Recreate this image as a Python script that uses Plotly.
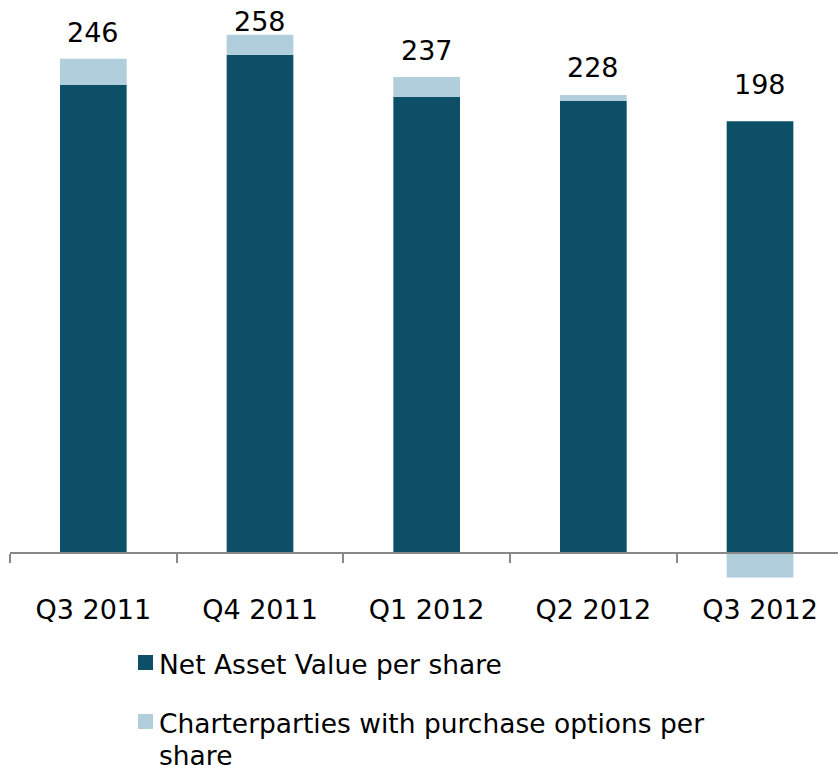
import plotly.graph_objects as go

# Per-share figures by quarter
quarters = ["Q3 2011", "Q4 2011", "Q1 2012", "Q2 2012", "Q3 2012"]
nav_per_share = [233, 248, 227, 225, 215]
charter_per_share = [13, 10, 10, 3, -12]
total_labels = [246, 258, 237, 228, 198]

series_names = ["Net Asset Value per share",
                "Charterparties with purchase options per share"]

# Styling
DARK = "#0c4f66"
LIGHT = "#b1cedc"
AXIS_GREY = "#898989"
FONT = "DejaVu Sans, Verdana, sans-serif"
W, H = 838, 765
ML, MR, MT, MB = 10, 0, 0, 185
PLOT_W, PLOT_H = W - ML - MR, H - MT - MB
PX_PER_UNIT = 2.01
ZERO_PX = 553.3          # pixel row of the value axis zero line
label_lift_px = [26, 13, 26, 28, 37]   # vertical gap of each total label above its stack
LEGEND_LINE_PX = 31.5


def px_to_paper_x(px):
    return (px - ML) / PLOT_W


def px_to_paper_y(py):
    return (MT + PLOT_H - py) / PLOT_H


fig = go.Figure()
fig.add_trace(go.Bar(x=quarters, y=nav_per_share, name=series_names[0],
                     marker=dict(color=DARK, line=dict(width=0)), width=0.4,
                     showlegend=False))
fig.add_trace(go.Bar(x=quarters, y=charter_per_share, name=series_names[1],
                     marker=dict(color=LIGHT, line=dict(width=0)), width=0.4,
                     showlegend=False))

# Total labels above each stack
for q, nav, ch, tot, lift in zip(quarters, nav_per_share, charter_per_share,
                                 total_labels, label_lift_px):
    top = nav + max(ch, 0)
    fig.add_annotation(x=q, y=top, text=str(tot), showarrow=False,
                       xref="x", yref="y", yanchor="middle", yshift=lift,
                       font=dict(family=FONT, size=27, color="#000000"))

# Legend drawn as swatches and text beneath the chart
legend_rows = [
    (655, ["Net Asset Value per share"], DARK),
    (714, ["Charterparties with purchase options per", "share"], LIGHT),
]
for top_px, lines, color in legend_rows:
    fig.add_shape(type="rect", xref="paper", yref="paper",
                  x0=px_to_paper_x(138), x1=px_to_paper_x(153),
                  y0=px_to_paper_y(top_px + 15), y1=px_to_paper_y(top_px),
                  fillcolor=color, line=dict(width=0))
    for i, line in enumerate(lines):
        fig.add_annotation(x=px_to_paper_x(157),
                           y=px_to_paper_y(top_px - 8 + i * LEGEND_LINE_PX),
                           xref="paper", yref="paper", xanchor="left",
                           yanchor="top", align="left", showarrow=False,
                           text=line,
                           font=dict(family=FONT, size=26.5, color="#000000"))

y_top = ZERO_PX / PX_PER_UNIT
y_bottom = -(MT + PLOT_H - ZERO_PX) / PX_PER_UNIT
axis_pos = (MT + PLOT_H - ZERO_PX) / PLOT_H

fig.update_layout(
    width=W, height=H,
    margin=dict(l=ML, r=MR, t=MT, b=MB),
    barmode="relative",
    paper_bgcolor="white", plot_bgcolor="white",
    font=dict(family=FONT, color="#000000"),
    xaxis=dict(
        type="category",
        range=[-0.5, -0.5 + PLOT_W / 166.67],
        anchor="free", position=axis_pos,
        showline=True, linecolor=AXIS_GREY, linewidth=1.5,
        ticks="outside", tickson="boundaries", ticklen=9,
        tickwidth=1.5, tickcolor=AXIS_GREY,
        ticklabelstandoff=33,
        tickfont=dict(family=FONT, size=27, color="#000000"),
        showgrid=False, zeroline=False,
    ),
    yaxis=dict(range=[y_bottom, y_top], visible=False, showgrid=False,
               zeroline=False),
)

fig.write_html("out.html")
